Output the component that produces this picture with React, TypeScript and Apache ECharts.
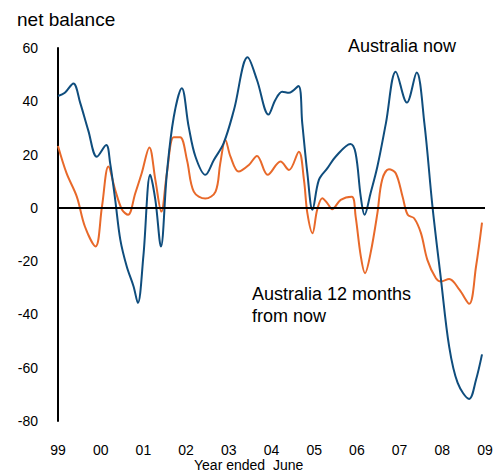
import React, { useEffect, useRef } from "react";
import * as echarts from "echarts";

const xTickLabels = ["99", "00", "01", "02", "03", "04", "05", "06", "07", "08", "09"];
const yTicks = { min: -80, max: 60, interval: 20 };

const nowDates = [
  1999.0, 1999.16, 1999.36, 1999.52, 1999.71, 1999.91, 2000.13, 2000.22, 2000.34, 2000.46,
  2000.61, 2000.77, 2000.87, 2001.0, 2001.16, 2001.28, 2001.41, 2001.55, 2001.71, 2001.9,
  2002.06, 2002.22, 2002.45, 2002.65, 2002.88, 2003.12, 2003.44, 2003.66, 2003.93, 2004.09,
  2004.25, 2004.41, 2004.63, 2004.72, 2004.84, 2004.96, 2005.11, 2005.31, 2005.5, 2005.85,
  2005.97, 2006.09, 2006.18, 2006.32, 2006.48, 2006.68, 2006.91, 2007.17, 2007.4, 2007.58,
  2007.77, 2007.97, 2008.16, 2008.36, 2008.63, 2008.79, 2008.93,
];
const nowValues = [
  42, 43.2, 46.7, 39.4, 29, 19.2, 23.6, 16.9, 3, -12,
  -22, -29.5, -35.7, -18, 12.4, 3, -14.5, 13, 34, 44.9,
  30.5, 19.2, 12.4, 18, 24.3, 36.7, 56.5, 48, 35, 40.5,
  43.6, 43.2, 45.7, 31.8, 13, -0.7, 10.5, 14.9, 19.2, 24,
  20.5, 4.2, -2.6, 5.5, 15.5, 31.8, 51.1, 39.5, 50.8, 31.8,
  0.5, -27, -52, -65.7, -71.7, -64.5, -55,
];

const aheadDates = [
  1999.0, 1999.2, 1999.44, 1999.63, 1999.88, 2000.03, 2000.18, 2000.34, 2000.5, 2000.64,
  2000.81, 2000.96, 2001.14, 2001.28, 2001.42, 2001.55, 2001.71, 2001.86, 2002.02, 2002.18,
  2002.45, 2002.69, 2002.8, 2002.92, 2003.04, 2003.23, 2003.47, 2003.66, 2003.91, 2004.21,
  2004.41, 2004.64, 2004.76, 2004.84, 2004.96, 2005.07, 2005.19, 2005.31, 2005.42, 2005.62,
  2005.88, 2005.97, 2006.09, 2006.19, 2006.32, 2006.48, 2006.59, 2006.75, 2006.91, 2007.07,
  2007.19, 2007.34, 2007.5, 2007.65, 2007.85, 2007.97, 2008.16, 2008.4, 2008.63, 2008.79,
  2008.93,
];
const aheadValues = [
  23.2, 13, 4.2, -7, -14.5, 0.5, 15.5, 6.7, -0.7, -2.6,
  5.5, 13, 22.7, 10.5, -1.4, 13, 26.5, 26.5, 18, 6.1,
  3.5, 6.1, 16.7, 25.5, 19.2, 13.6, 16.1, 19.5, 12.4, 17.4,
  14.2, 21.1, 10.5, -2, -9.5, -0.7, 3.6, 1.7, -0.5, 3,
  4.2, -3.2, -18, -24.5, -17, -2, 10.5, 14.5, 13, 4.2,
  -2.6, -3.9, -9.5, -19.5, -26.4, -27.6, -26.7, -30.7, -36, -22,
  -5.5,
];

const BLUE = "#0f4d7d";
const ORANGE = "#e8692a";
const FONT = "Liberation Sans, Arial, sans-serif";

export default function App() {
  const ref = useRef<HTMLDivElement>(null);
  useEffect(() => {
    document.body.style.margin = "0";
    const chart = echarts.init(ref.current!, null, { renderer: "svg" });
    const firstYear = 1999;
    chart.setOption({
      animation: false,
      textStyle: { fontFamily: FONT },
      grid: { left: 58, right: 18, top: 48, bottom: 51 },
      xAxis: {
        type: "value",
        min: firstYear,
        max: firstYear + xTickLabels.length - 1,
        interval: 1,
        axisLine: { show: false },
        axisTick: { show: false },
        splitLine: { show: false },
        axisLabel: {
          margin: 22,
          fontSize: 14,
          lineHeight: 14,
          color: "#000",
          fontFamily: FONT,
          formatter: (v: number) => xTickLabels[Math.round(v - firstYear)] ?? "",
        },
      },
      yAxis: {
        type: "value",
        min: yTicks.min,
        max: yTicks.max,
        interval: yTicks.interval,
        axisLine: { show: true, onZero: false, lineStyle: { color: "#000", width: 2 } },
        axisTick: { show: false },
        splitLine: { show: false },
        axisLabel: { margin: 20, fontSize: 14, color: "#000", fontFamily: FONT },
      },
      series: [
        {
          type: "line",
          name: "Australia 12 months from now",
          data: aheadDates.map((d, i) => [d, aheadValues[i]]),
          showSymbol: false,
          smooth: 0.35,
          lineStyle: { color: ORANGE, width: 2 },
          itemStyle: { color: ORANGE },
          z: 2,
          markLine: {
            silent: true,
            symbol: "none",
            label: { show: false },
            lineStyle: { color: "#000", width: 2, type: "solid" },
            data: [{ yAxis: 0 }],
          },
        },
        {
          type: "line",
          name: "Australia now",
          data: nowDates.map((d, i) => [d, nowValues[i]]),
          showSymbol: false,
          smooth: 0.35,
          lineStyle: { color: BLUE, width: 2 },
          itemStyle: { color: BLUE },
          z: 3,
        },
      ],
      graphic: [
        {
          type: "text",
          left: 17,
          top: 10,
          style: { text: "net balance", fontSize: 19, fill: "#000", fontFamily: FONT },
        },
        {
          type: "text",
          left: 348,
          top: 37,
          style: { text: "Australia now", fontSize: 18, fill: "#000", fontFamily: FONT },
        },
        {
          type: "text",
          left: 252,
          top: 283,
          style: {
            text: "Australia 12 months\nfrom now",
            fontSize: 18,
            lineHeight: 22,
            fill: "#000",
            fontFamily: FONT,
          },
        },
        {
          type: "text",
          left: 194,
          top: 458,
          style: { text: "Year ended  June", fontSize: 14, lineHeight: 13, fill: "#000", fontFamily: FONT },
        },
      ],
    });
    return () => chart.dispose();
  }, []);
  return <div ref={ref} style={{ width: 503, height: 472 }} />;
}
